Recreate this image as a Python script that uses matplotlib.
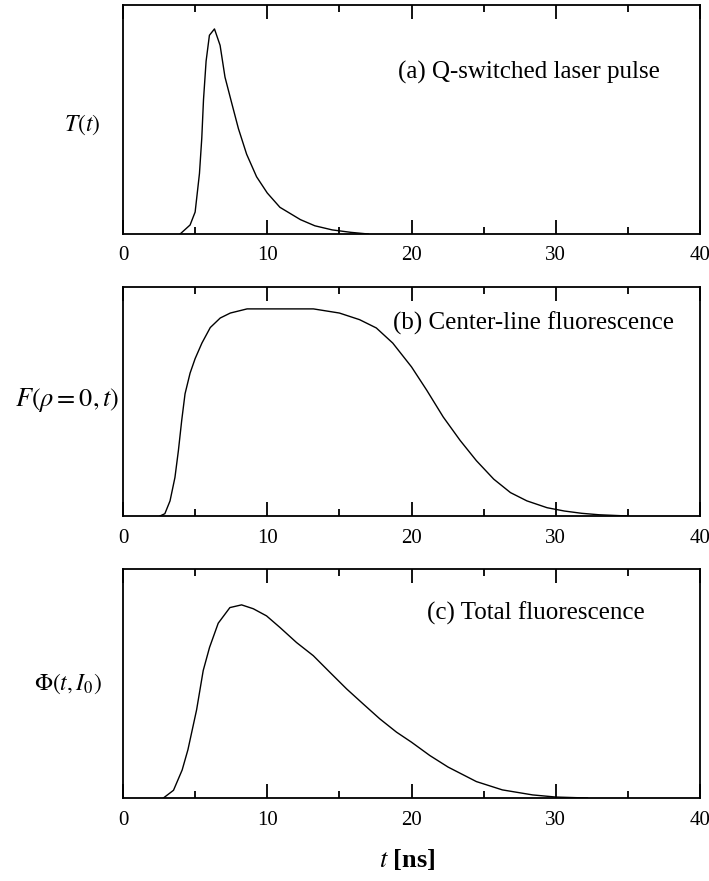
import matplotlib
matplotlib.use("Agg")
import matplotlib.pyplot as plt
from matplotlib.ticker import MultipleLocator

plt.rcParams["font.family"] = "Liberation Serif"
plt.rcParams["mathtext.fontset"] = "stix"

# (a) Q-switched laser pulse, normalised to peak
t_a = [3.96, 4.65, 5.0, 5.3, 5.46, 5.58, 5.76, 5.99, 6.34, 6.73, 7.07, 7.53,
       8.0, 8.57, 9.26, 10.0, 10.88, 12.3, 13.3, 14.5, 15.8, 17.0]
T_a = [0.0, 0.044, 0.107, 0.295, 0.467, 0.655, 0.843, 0.969, 1.0, 0.92,
       0.765, 0.64, 0.514, 0.389, 0.279, 0.2, 0.13, 0.07, 0.04, 0.02,
       0.008, 0.0]

# (b) centre-line fluorescence
t_b = [2.56, 2.9, 3.26, 3.6, 3.84, 4.07, 4.3, 4.65, 5.0, 5.47, 6.05, 6.74,
       7.44, 8.6, 10.0, 13.2, 15.0, 16.4, 17.56, 18.7, 20.0, 21.05, 22.2,
       23.37, 24.5, 25.7, 26.86, 28.0, 29.4, 30.6, 31.8, 33.0, 35.0]
F_b = [0.0, 0.011, 0.073, 0.186, 0.316, 0.462, 0.59, 0.69, 0.76, 0.835,
       0.91, 0.956, 0.98, 1.0, 1.0, 1.0, 0.98, 0.948, 0.908, 0.835, 0.72,
       0.608, 0.478, 0.365, 0.267, 0.178, 0.113, 0.073, 0.04, 0.024, 0.013,
       0.006, 0.0]

# (c) total fluorescence
t_c = [2.8, 3.5, 4.1, 4.5, 5.1, 5.56, 6.0, 6.6, 7.41, 8.22, 9.03, 9.95,
       10.88, 12.03, 13.19, 14.34, 15.5, 16.65, 17.8, 18.96, 20.0, 21.27,
       22.54, 24.5, 26.3, 28.4, 30.0, 32.2]
P_c = [0.0, 0.04, 0.145, 0.25, 0.456, 0.66, 0.78, 0.905, 0.986, 1.0, 0.98,
       0.943, 0.883, 0.805, 0.737, 0.651, 0.565, 0.487, 0.41, 0.341, 0.289,
       0.22, 0.16, 0.085, 0.042, 0.016, 0.005, 0.0]

panels = [
    (t_a, T_a, 1.117, r"$T(t)$", "(a) Q-switched laser pulse",
     (0.477, 0.707), (-0.071, 0.476), 17, 0.7344),
    (t_b, F_b, 1.106, r"$F(\rho=0,t)$", "(b) Center-line fluorescence",
     (0.468, 0.843), (-0.097, 0.507), 19, 0.4143),
    (t_c, P_c, 1.186, r"$\Phi(t,I_0)$", "(c) Total fluorescence",
     (0.527, 0.808), (-0.095, 0.500), 17, 0.0942),
]

fig = plt.figure(figsize=(7.09, 8.81), dpi=100)

for t, y, ytop, ylab, note, note_xy, lab_xy, lab_fs, bottom in panels:
    ax = fig.add_axes([0.1735, bottom, 0.8138, 0.26])
    ax.plot(t, y, color="black", lw=1.0)
    ax.set_xlim(0, 40)
    ax.set_ylim(0, ytop)
    ax.set_yticks([])
    ax.xaxis.set_major_locator(MultipleLocator(10))
    ax.xaxis.set_minor_locator(MultipleLocator(5))
    ax.tick_params(axis="x", which="both", direction="in", top=True,
                   labelsize=15, pad=9, width=1.3)
    ax.tick_params(axis="x", which="major", length=10)
    ax.tick_params(axis="x", which="minor", length=5)
    for s in ax.spines.values():
        s.set_linewidth(1.3)
    ax.text(note_xy[0], note_xy[1], note, transform=ax.transAxes,
            ha="left", va="center", fontsize=18)
    ax.text(lab_xy[0], lab_xy[1], ylab, transform=ax.transAxes,
            ha="center", va="center", fontsize=lab_fs)

fig.text(0.574, 0.024, r"$t$ [ns]", ha="center", va="center",
         fontsize=19, fontweight="bold")

fig.savefig("out.png", dpi=100)
